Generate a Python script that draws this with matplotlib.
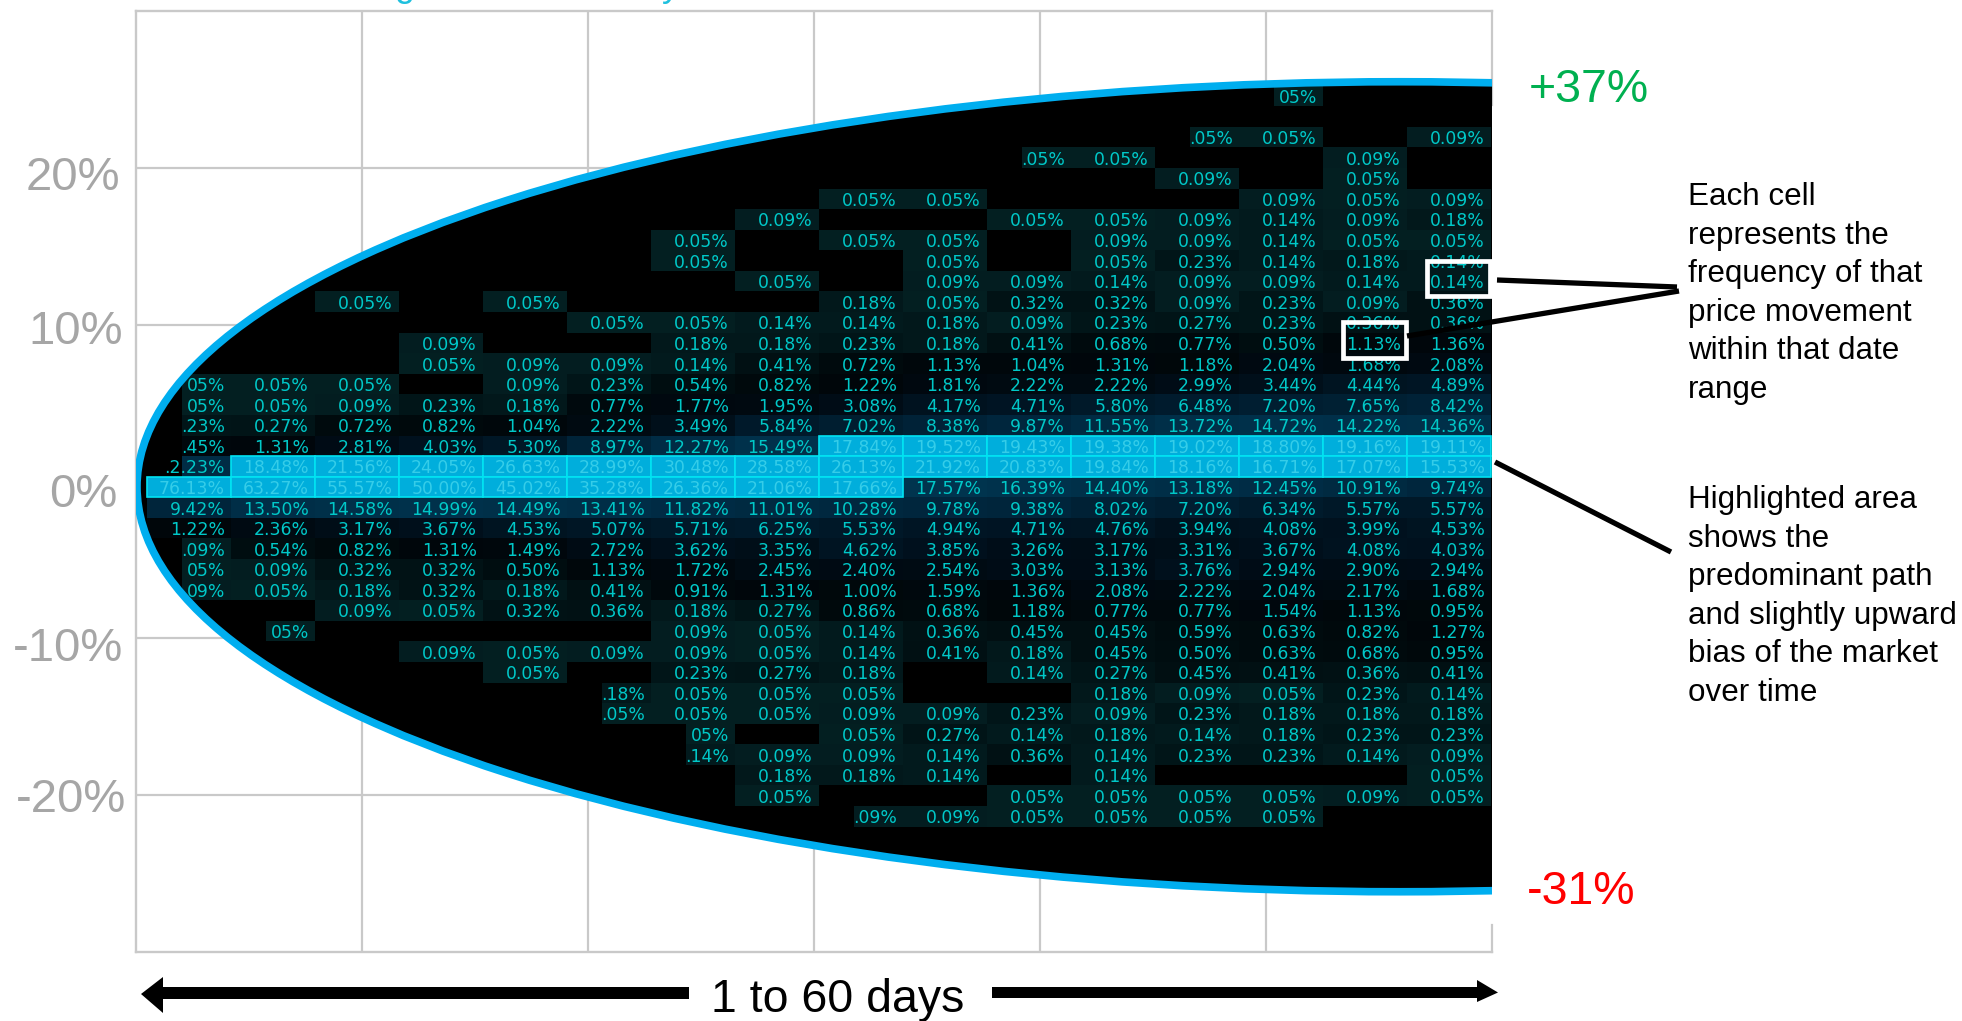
import numpy as np
import matplotlib
matplotlib.use("Agg")
import matplotlib.pyplot as plt
from matplotlib.colors import LinearSegmentedColormap, LogNorm
from matplotlib.patches import Ellipse, Polygon, Rectangle
from matplotlib.transforms import ScaledTranslation

n = np.nan
# Frequency table (%), one list per price row from top to bottom, 16 date columns
upper_rows = [
    [n, n, n, n, n, n, n, n, n, n, n, n, n, 0.05, n, n],
    [n, n, n, n, n, n, n, n, n, n, n, n, n, n, n, n],
    [n, n, n, n, n, n, n, n, n, n, n, n, 0.05, 0.05, n, 0.09],
    [n, n, n, n, n, n, n, n, n, n, 0.05, 0.05, n, n, 0.09, n],
    [n, n, n, n, n, n, n, n, n, n, n, n, 0.09, n, 0.05, n],
    [n, n, n, n, n, n, n, n, 0.05, 0.05, n, n, n, 0.09, 0.05, 0.09],
    [n, n, n, n, n, n, n, 0.09, n, n, 0.05, 0.05, 0.09, 0.14, 0.09, 0.18],
    [n, n, n, n, n, n, 0.05, n, 0.05, 0.05, n, 0.09, 0.09, 0.14, 0.05, 0.05],
    [n, n, n, n, n, n, 0.05, n, n, 0.05, n, 0.05, 0.23, 0.14, 0.18, 0.14],
    [n, n, n, n, n, n, n, 0.05, n, 0.09, 0.09, 0.14, 0.09, 0.09, 0.14, 0.14],
    [n, n, 0.05, n, 0.05, n, n, n, 0.18, 0.05, 0.32, 0.32, 0.09, 0.23, 0.09, 0.36],
    [n, n, n, n, n, 0.05, 0.05, 0.14, 0.14, 0.18, 0.09, 0.23, 0.27, 0.23, 0.36, 0.36],
    [n, n, n, 0.09, n, n, 0.18, 0.18, 0.23, 0.18, 0.41, 0.68, 0.77, 0.50, 1.13, 1.36],
    [n, n, n, 0.05, 0.09, 0.09, 0.14, 0.41, 0.72, 1.13, 1.04, 1.31, 1.18, 2.04, 1.68, 2.08],
    [0.05, 0.05, 0.05, n, 0.09, 0.23, 0.54, 0.82, 1.22, 1.81, 2.22, 2.22, 2.99, 3.44, 4.44, 4.89],
    [0.05, 0.05, 0.09, 0.23, 0.18, 0.77, 1.77, 1.95, 3.08, 4.17, 4.71, 5.80, 6.48, 7.20, 7.65, 8.42],
    [0.23, 0.27, 0.72, 0.82, 1.04, 2.22, 3.49, 5.84, 7.02, 8.38, 9.87, 11.55, 13.72, 14.72, 14.22, 14.36],
]
middle_rows = [
    [1.45, 1.31, 2.81, 4.03, 5.30, 8.97, 12.27, 15.49, 17.84, 19.52, 19.43, 19.38, 19.02, 18.80, 19.16, 19.11],
    [12.23, 18.48, 21.56, 24.05, 26.63, 28.99, 30.48, 28.58, 26.13, 21.92, 20.83, 19.84, 18.16, 16.71, 17.07, 15.53],
    [76.13, 63.27, 55.57, 50.00, 45.02, 35.28, 26.36, 21.06, 17.66, 17.57, 16.39, 14.40, 13.18, 12.45, 10.91, 9.74],
]
lower_rows = [
    [9.42, 13.50, 14.58, 14.99, 14.49, 13.41, 11.82, 11.01, 10.28, 9.78, 9.38, 8.02, 7.20, 6.34, 5.57, 5.57],
    [1.22, 2.36, 3.17, 3.67, 4.53, 5.07, 5.71, 6.25, 5.53, 4.94, 4.71, 4.76, 3.94, 4.08, 3.99, 4.53],
    [0.09, 0.54, 0.82, 1.31, 1.49, 2.72, 3.62, 3.35, 4.62, 3.85, 3.26, 3.17, 3.31, 3.67, 4.08, 4.03],
    [0.05, 0.09, 0.32, 0.32, 0.50, 1.13, 1.72, 2.45, 2.40, 2.54, 3.03, 3.13, 3.76, 2.94, 2.90, 2.94],
    [0.09, 0.05, 0.18, 0.32, 0.18, 0.41, 0.91, 1.31, 1.00, 1.59, 1.36, 2.08, 2.22, 2.04, 2.17, 1.68],
    [n, n, 0.09, 0.05, 0.32, 0.36, 0.18, 0.27, 0.86, 0.68, 1.18, 0.77, 0.77, 1.54, 1.13, 0.95],
    [n, 0.05, n, n, n, n, 0.09, 0.05, 0.14, 0.36, 0.45, 0.45, 0.59, 0.63, 0.82, 1.27],
    [n, n, n, 0.09, 0.05, 0.09, 0.09, 0.05, 0.14, 0.41, 0.18, 0.45, 0.50, 0.63, 0.68, 0.95],
    [n, n, n, n, 0.05, n, 0.23, 0.27, 0.18, n, 0.14, 0.27, 0.45, 0.41, 0.36, 0.41],
    [n, n, n, n, n, 0.18, 0.05, 0.05, 0.05, n, n, 0.18, 0.09, 0.05, 0.23, 0.14],
    [n, n, n, n, n, 0.05, 0.05, 0.05, 0.09, 0.09, 0.23, 0.09, 0.23, 0.18, 0.18, 0.18],
    [n, n, n, n, n, n, 0.05, n, 0.05, 0.27, 0.14, 0.18, 0.14, 0.18, 0.23, 0.23],
    [n, n, n, n, n, n, 0.14, 0.09, 0.09, 0.14, 0.36, 0.14, 0.23, 0.23, 0.14, 0.09],
    [n, n, n, n, n, n, n, 0.18, 0.18, 0.14, n, 0.14, n, n, n, 0.05],
    [n, n, n, n, n, n, n, 0.05, n, n, 0.05, 0.05, 0.05, 0.05, 0.09, 0.05],
    [n, n, n, n, n, n, n, n, 0.09, 0.09, 0.05, 0.05, 0.05, 0.05, n, n],
]
top_row_index = 19           # the top list sits 19 rows above the 0 row
# (row, column): text as far as the picture shows it, cut by the envelope
cut_labels = {(5, 0): "05%", (4, 0): "05%", (3, 0): ".23%", (2, 0): ".45%", (1, 0): ".2.23%",
              (-3, 0): ".09%", (-4, 0): "05%", (-5, 0): "09%", (-7, 1): "05%",
              (-10, 5): ".18%", (-11, 5): ".05%", (-12, 6): "05%", (-13, 6): ".14%",
              (-16, 8): ".09%", (19, 13): "05%", (17, 12): ".05%", (16, 10): ".05%"}
# highlighted band: row -> first and last highlighted column
highlight_spans = {2: (8, 15), 1: (1, 15), 0: (0, 8)}
# the two example cells with a white frame (row, column)
framed_cells = [(10, 15), (7, 14)]

y_ticks = [20, 10, 0, -10, -20]
y_tick_labels = ["20%", "10%", "0%", "-10%", "-20%"]
x_ticks = [10, 20, 30, 40, 50]
note_top = ["Each cell", "represents the", "frequency of that", "price movement", "within that date", "range"]
note_bottom = ["Highlighted area", "shows the", "predominant path", "and slightly upward", "bias of the market", "over time"]

W, H = 1962, 1021
L, R, T, B = 135.5, 1492, 11, 951.5
ROW_PX, COL_PX, ROW0_PX, COL0_PX = 20.58, 84.0, 487.0, 147.0
sans = ["Liberation Sans", "DejaVu Sans"]
GREY = "#c9c9c9"

fig = plt.figure(figsize=(W / 100, H / 100), dpi=100, facecolor="white")
rect = [L / W, 1 - B / H, (R - L) / W, (B - T) / H]

# base axes: days against price change
ax = fig.add_axes(rect, zorder=1)
ax.set_xlim(0, 60)
ax.set_ylim(-30, 30)
ax.set_xticks(x_ticks)
ax.set_yticks(y_ticks, y_tick_labels, color="#a6a6a6", fontsize=34, family=sans)
ax.tick_params(axis="x", length=0, labelbottom=False)
ax.tick_params(axis="y", length=0, pad=11)
ax.grid(True, color=GREY, lw=1.6)
ax.set_axisbelow(True)
for side in ("left", "top", "bottom"):
    ax.spines[side].set_color(GREY)
    ax.spines[side].set_linewidth(1.7)
ax.spines["right"].set_visible(False)
ax.plot([60, 60], [30, 24], color=GREY, lw=1.6, clip_on=False, zorder=0.5)
ax.plot([60, 60], [-28.3, -30], color=GREY, lw=1.6, clip_on=False, zorder=0.5)
fig.canvas.draw()
for label, (dx, dy) in zip(ax.get_yticklabels(), [(0, -5), (3, -2), (-3, -9), (3, -6), (6, 0)]):
    label.set_transform(label.get_transform() + ScaledTranslation(dx / 100, dy / 100, fig.dpi_scale_trans))

px_days = (R - L) / 60
px_pct = (B - T) / 60
env_center = ((1400 - L) / px_days, (481.5 - ROW0_PX) / px_pct)
env_w, env_h = 2526 / px_days, 810 / px_pct
envelope = Ellipse(env_center, env_w, env_h, facecolor="black", edgecolor="none", zorder=2)
ax.add_patch(envelope)

# table axes: column and row units on the same rectangle
tb = fig.add_axes(rect, zorder=2)
tb.set_xlim((L - COL0_PX) / COL_PX, (R - COL0_PX) / COL_PX)
tb.set_ylim((ROW0_PX - B) / ROW_PX, (ROW0_PX - T) / ROW_PX)
tb.axis("off")

table = np.array(upper_rows + middle_rows + lower_rows, dtype=float)
row_ids = top_row_index - np.arange(table.shape[0])
x_edges = np.arange(table.shape[1] + 1)
y_edges = np.append(row_ids + 0.5, row_ids[-1] - 0.5)

shade = LinearSegmentedColormap.from_list("shade", [
    (0.00, "#031f21"), (0.12, "#031d20"), (0.30, "#011316"), (0.45, "#000a0d"),
    (0.55, "#00060a"), (0.70, "#000c16"), (0.82, "#001a2b"), (0.92, "#002a42"), (1.00, "#00344f")])
mesh = tb.pcolormesh(x_edges, y_edges, np.ma.masked_invalid(table), cmap=shade,
                     norm=LogNorm(0.05, 18), edgecolors="none")
mesh.set_clip_path(envelope)

# the envelope also hides the left part of the cells whose text it cuts
for (r, c) in cut_labels:
    cover = tb.add_patch(Rectangle((c, r - 0.5), 0.42, 1.0, facecolor="black", edgecolor="none", zorder=1.5))
    cover.set_clip_path(envelope)

is_high = np.zeros(table.shape, dtype=bool)
for r, (c0, c1) in highlight_spans.items():
    is_high[top_row_index - r, c0:c1 + 1] = True
    cells = tb.bar(np.arange(c0, c1 + 1), 1.0, bottom=r - 0.5, width=1.0, align="edge",
                   color="#00AEDC", edgecolor="#00E4F2", linewidth=1.2, zorder=2)
    for cell in cells:
        cell.set_clip_path(envelope)

for i, r in enumerate(row_ids):
    for c, v in enumerate(table[i]):
        if np.isnan(v):
            continue
        high = is_high[i, c]
        txt = tb.text(c + 1 - 6 / COL_PX, r, cut_labels.get((int(r), c), f"{v:.2f}%"),
                      ha="right", va="center_baseline", fontsize=12.4, family="DejaVu Sans",
                      color="#35CDE9" if high else "#00C8C8", zorder=3)
        txt.set_clip_path(envelope)

# blue outline of the envelope, above the cells
tb.add_patch(Ellipse(env_center, env_w, env_h, transform=ax.transData, fill=False,
                     edgecolor="#00AEEF", lw=5.5, zorder=4))

for r, c in framed_cells:
    tb.add_patch(Rectangle((c + 0.24, r - 0.72), 0.75, 1.72, fill=False, edgecolor="white", lw=3.4, zorder=5))

# annotation layer in figure pixels
ov = fig.add_axes([0, 0, 1, 1], zorder=3)
ov.set_xlim(0, W)
ov.set_ylim(H, 0)
ov.axis("off")
ov.text(1529, 102, "+37%", color="#00B050", fontsize=33.5, family=sans, va="baseline")
ov.text(1527, 904, "-31%", color="#FF0000", fontsize=33.5, family=sans, va="baseline")
for i, line in enumerate(note_top):
    ov.text(1688, 205 + i * 38.5, line, fontsize=22.6, family=sans, va="baseline", color="black")
for i, line in enumerate(note_bottom):
    ov.text(1688, 508 + i * 38.5, line, fontsize=22.6, family=sans, va="baseline", color="black")
ov.plot([1497, 1677], [280, 287], color="black", lw=3.8, solid_capstyle="butt")
ov.plot([1407, 1679], [336, 291], color="black", lw=3.8, solid_capstyle="butt")
ov.plot([1495, 1671], [462, 552], color="black", lw=3.8, solid_capstyle="butt")
ov.add_patch(Polygon([(141, 994), (163, 977), (163, 987), (689, 987), (689, 999), (163, 999), (163, 1013)],
                     closed=True, color="black", lw=0))
ov.add_patch(Polygon([(992, 987), (1477, 987), (1477, 980), (1498, 992.5), (1477, 1002), (1477, 998), (992, 998)],
                     closed=True, color="black", lw=0))
ov.text(838, 1012, "1 to 60 days", fontsize=33.5, family=sans, ha="center", va="baseline", color="black")
# descenders of a headline that the picture cuts off at its top edge
ov.text(394, -3.5, "g", fontsize=26, family=sans, color="#1FC0DE", va="baseline", clip_on=False)
ov.text(662, -3.5, "y", fontsize=26, family=sans, color="#1FC0DE", va="baseline", clip_on=False)

fig.savefig("out.png", dpi=100)
